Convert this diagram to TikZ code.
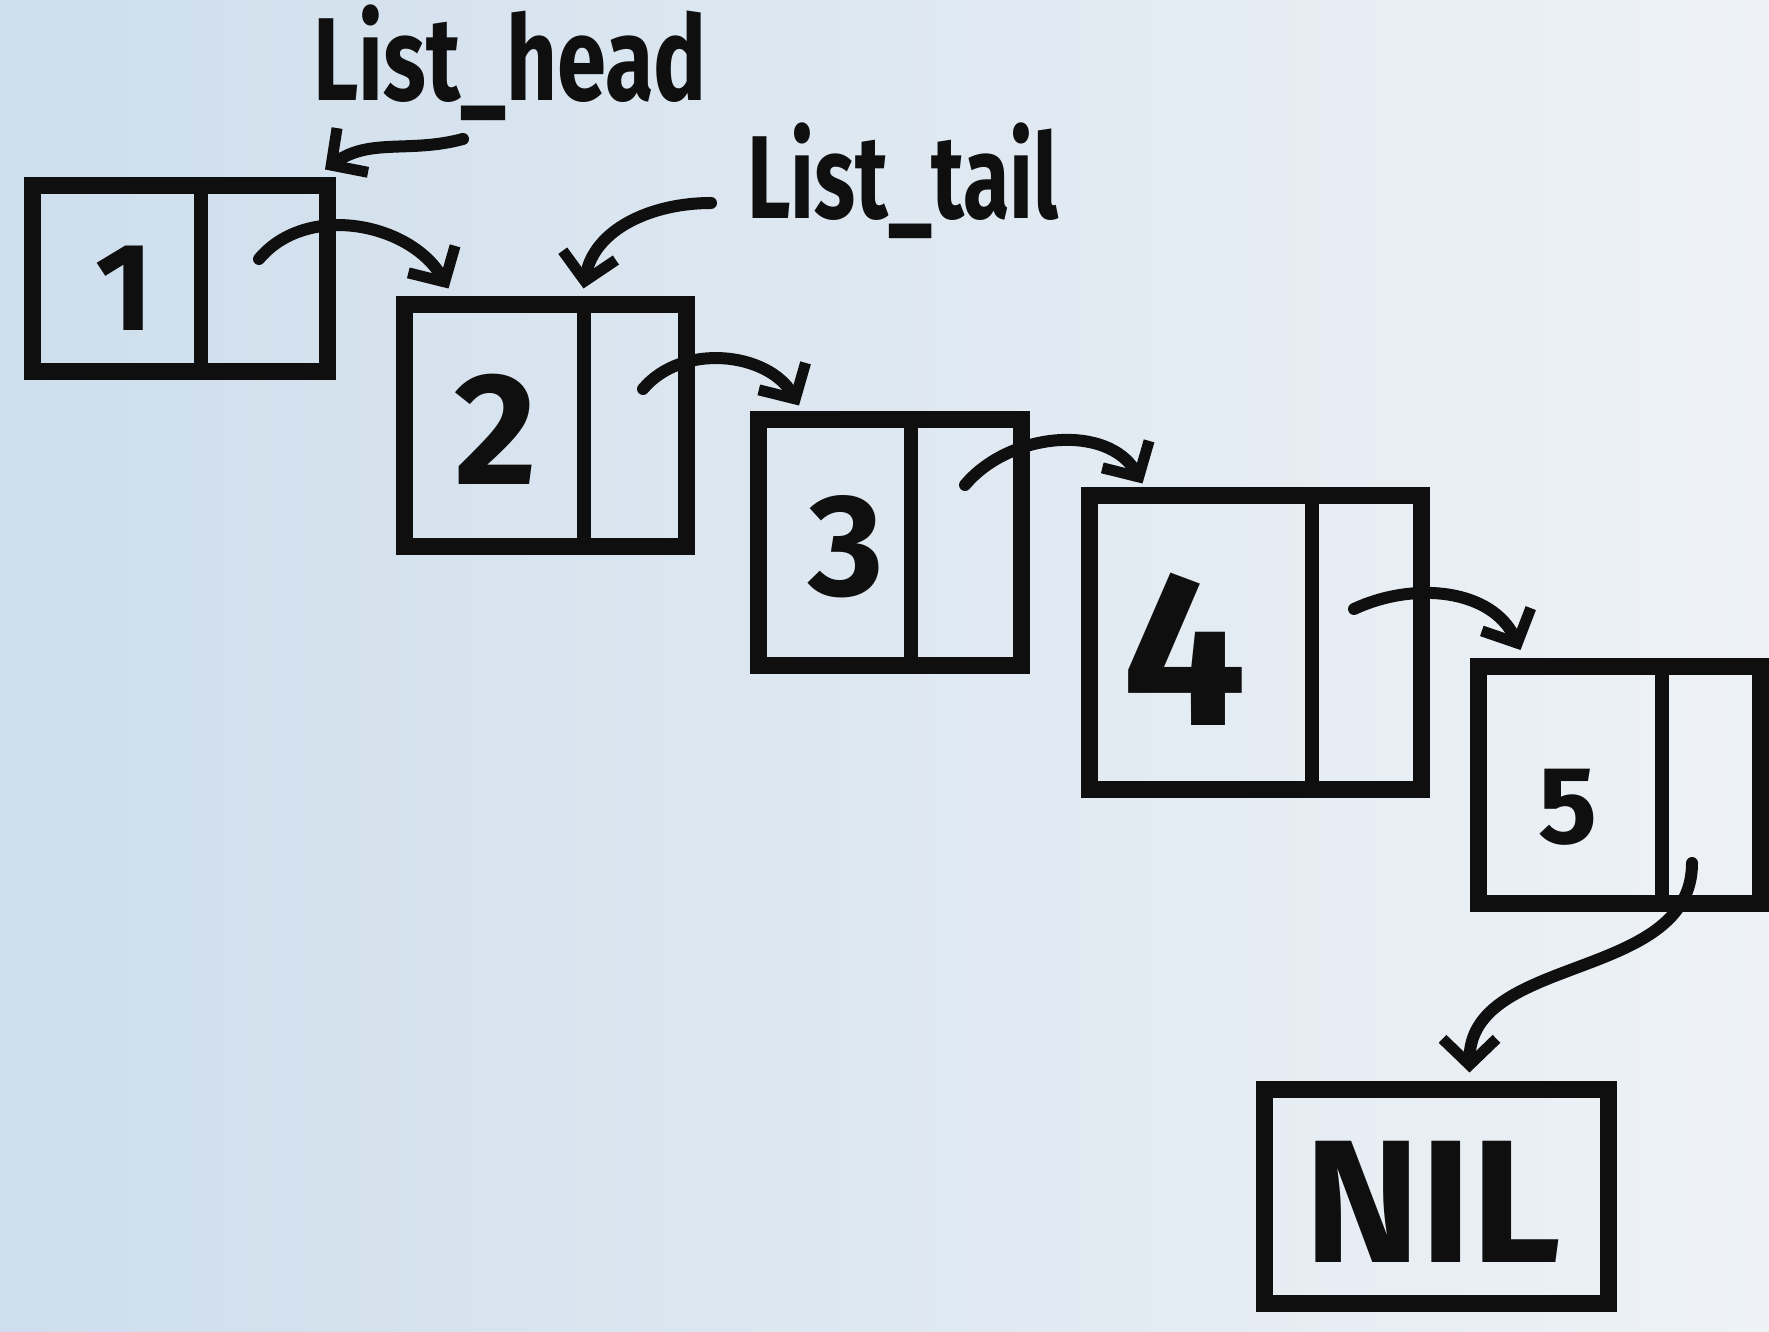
\documentclass[tikz,border=0pt]{standalone}
\usepackage{fontspec}
\usepackage{graphicx}
\setmainfont{Fira Sans}
\usetikzlibrary{arrows.meta,calc}
\definecolor{ink}{RGB}{15,15,15}
\definecolor{paperL}{RGB}{206,222,236}
\definecolor{paperR}{RGB}{238,242,246}
\begin{document}
\begin{tikzpicture}[x=1pt,y=1pt,
  box/.style={draw=ink, line width=17pt, rectangle, inner sep=0pt},
  div/.style={draw=ink, line width=14pt},
  lnk/.style={draw=ink, line width=12pt, line cap=round, -{Straight Barb[length=26pt,width=54pt,line width=11pt]}},
  num/.style={text=ink, inner sep=0pt, font=\bfseries},
  lbl/.style={text=ink, inner sep=0pt, font=\fontsize{118}{118}\selectfont\bfseries}]
\useasboundingbox (0,0) rectangle (1769,1331);
\shade[left color=paperL, right color=paperR] (0,0) rectangle (1769,1331);

% boxes
\node[box, minimum width=295, minimum height=186] (n1) at (180,1052) {};
\node[box, minimum width=282, minimum height=242] (n2) at (545,905) {};
\node[box, minimum width=263, minimum height=246] (n3) at (890,788) {};
\node[box, minimum width=332, minimum height=294] (n4) at (1255,688) {};
\node[box, minimum width=282, minimum height=237] (n5) at (1619,546) {};
\node[box, minimum width=344, minimum height=214] (nil) at (1436,135) {};

% dividers
\draw[div] ($(n1.north west)+(177,0)$) -- ($(n1.south west)+(177,0)$);
\draw[div] ($(n2.north west)+(188,0)$) -- ($(n2.south west)+(188,0)$);
\draw[div] ($(n3.north west)+(161,0)$) -- ($(n3.south west)+(161,0)$);
\draw[div] ($(n4.north west)+(231,0)$) -- ($(n4.south west)+(231,0)$);
\draw[div] ($(n5.north west)+(192,0)$) -- ($(n5.south west)+(192,0)$);

% values
\node[num, font=\fontsize{125}{125}\selectfont\bfseries] (t1) at (124,1043) {1};
\node[num, font=\fontsize{160}{160}\selectfont\bfseries] (t2) at (496,902) {2};
\node[num, font=\fontsize{145}{145}\selectfont\bfseries] (t3) at (846,784) {3};
\node[num, font=\fontsize{220}{220}\selectfont\bfseries] (t4) at (1185,682) {4};
\node[num, font=\fontsize{110}{110}\selectfont\bfseries] (t5) at (1568,524) {5};
\node[num, font=\fontsize{175}{175}\selectfont\bfseries] (tn) at (1433,129) {NIL};

% labels
\node[lbl] (hd) at (510,1268) {\scalebox{0.75}[1]{List\_head}};
\node[lbl] (tl) at (903,1150) {\scalebox{0.72}[1]{List\_tail}};

% link start points
\coordinate (s1) at (259,1072);
\coordinate (s2) at (643,942);
\coordinate (s3) at (965,846);
\coordinate (s4) at (1354,722);
\coordinate (s5) at (1692,468);
\coordinate (hs) at (463,1192);
\coordinate (ts) at (711,1128);

% links
\draw[lnk] (s1) to[out=50, in=120] ($(n2.north west)+(53,8)$);
\draw[lnk] (s2) to[out=50, in=120] ($(n3.north west)+(49,6)$);
\draw[lnk] (s3) to[out=50, in=120] ($(n4.north west)+(62,4)$);
\draw[lnk] (s4) to[out=25, in=115] ($(n5.north west)+(51,8)$);
\draw[lnk] (s5) to[out=-90, in=90] ($(nil.north west)+(214,8)$);
\draw[lnk] (hs) to[out=195, in=35] ($(n1.north east)+(-11,8)$);
\draw[lnk] (ts) to[out=180, in=80] ($(n2.north west)+(188,8)$);
\end{tikzpicture}
\end{document}
